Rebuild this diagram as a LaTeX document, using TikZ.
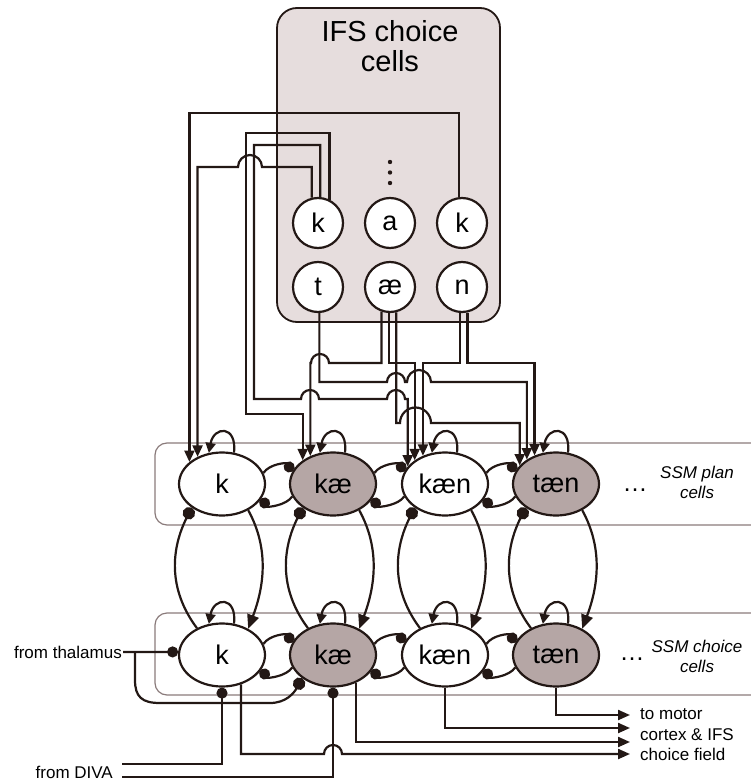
\documentclass[tikz,border=0pt]{standalone}
\usepackage{fontspec}
\setmainfont{Liberation Sans}
\usetikzlibrary{arrows.meta,shapes.geometric}
\definecolor{ink}{HTML}{231815}
\definecolor{ifsfill}{HTML}{E6DDDD}
\definecolor{shade}{HTML}{B5A6A5}
\definecolor{rowline}{HTML}{8A7B7B}
\begin{document}
\begin{tikzpicture}[x=1pt,y=-1pt,
  conn/.style={draw=ink,line width=2.2pt},
  arr/.style={conn,-{Triangle[length=11.5pt,width=10pt]}},
  bigarr/.style={conn,-{Triangle[length=14pt,width=12pt]}},
  looparr/.style={conn,-{Triangle[length=10pt,width=10pt]}},
  outarr/.style={conn,-{Triangle[length=12pt,width=10pt]}},
  dotend/.style={conn,-{Circle[length=11pt]}},
  bigdot/.style={conn,-{Circle[length=12.5pt]}},
  ifscell/.style={circle,draw=ink,line width=2.2pt,fill=white,minimum size=50pt,inner sep=0pt,font=\fontsize{27}{27}\selectfont},
  ssm/.style={ellipse,draw=ink,line width=2.2pt,minimum width=86pt,minimum height=63pt,inner sep=0pt,font=\fontsize{27}{27}\selectfont},
  ssmw/.style={ssm,fill=white},
  ssms/.style={ssm,fill=shade},
  rowbox/.style={draw=rowline,line width=1.2pt,rounded corners=12pt},
  small/.style={font=\fontsize{17}{20.5}\selectfont,inner sep=1pt},
  lbl/.style={font=\fontsize{17}{20}\selectfont\itshape,align=center,inner sep=1pt},
]
\useasboundingbox (0,0) rectangle (750,783);
% IFS box
\node[draw=ink,line width=1.8pt,fill=ifsfill,rounded corners=20pt,minimum width=223pt,minimum height=314pt,inner sep=0pt] (ifs) at (388.5,165) {};
\node[font=\fontsize{29}{29.5}\selectfont,align=center] (ifslabel) at (390,46) {IFS choice\\cells};
\node[ifscell] (ik1) at (318,223) {k};
\node[ifscell] (ia) at (390,223) {a};
\node[ifscell] (ik2) at (462,223) {k};
\node[ifscell] (it) at (318,287) {t};
\node[ifscell] (iae) at (390,287) {æ};
\node[ifscell] (in) at (462,287) {n};
\foreach \yy in {162,172.5,183} \fill[ink] (390,\yy) circle[radius=2.2pt];
% SSM row boxes
\draw[rowbox] (752,443) -- (155,443) -- (155,525) -- (752,525);
\draw[rowbox] (752,613) -- (155,613) -- (155,695) -- (752,695);
% SSM nodes
\node[ssmw] (pk) at (222,484) {k};
\node[ssms] (pkae) at (333,484) {kæ};
\node[ssmw] (pkaen) at (445,484) {kæn};
\node[ssms] (ptaen) at (556,484) {tæn};
\node[ssmw] (ck) at (222,655) {k};
\node[ssms] (ckae) at (333,655) {kæ};
\node[ssmw] (ckaen) at (445,655) {kæn};
\node[ssms] (ctaen) at (556,655) {tæn};
\node[font=\fontsize{25}{25}\selectfont] (pdots) at (635,490) {…};
\node[font=\fontsize{25}{25}\selectfont] (cdots) at (632,659) {…};
\node[lbl] (plab) at (697,482) {SSM plan\\cells};
\node[lbl] (clab) at (697,656) {SSM choice\\cells};
% IFS -> plan connections
\draw[arr] (ik2.97) |- (300,113) -| (pk.146);
\draw[arr] (ik1.104) |- (262,167) arc[start angle=0,end angle=180,radius=12pt] -| (pk.132);
\draw[arr] (ik1.85) |- (254,145) |- (301,399) arc[start angle=180,end angle=0,radius=9pt] -- (387,399) arc[start angle=180,end angle=0,radius=9pt] -| (pkaen.155);
\draw[arr] (ik1.64) |- (246,133) |- (280,414) -| (pkae.142);
\draw[arr] (it.-87) |- (387,382) arc[start angle=180,end angle=0,radius=9pt] -- (407,382) arc[start angle=180,end angle=0,radius=12pt] -| (ptaen.140);
\draw[arr] (iae.-109) |- (329,363) arc[start angle=0,end angle=180,radius=9pt] -| (pkae.129);
\draw[arr] (iae.-92) |- (400,363) -| (pkaen.142);
\draw[arr] (iae.-76) |- (400,423) arc[start angle=180,end angle=0,radius=15.5pt] -| (ptaen.153);
\draw[arr] (in.-95) |- (440,363) -| (pkaen.128);
\draw[arr] (in.-78) |- (500,363) -| (ptaen.127);
% self loops
\foreach \n in {pk,pkae,pkaen,ptaen,ck,ckae,ckaen,ctaen}
  \draw[looparr] (\n.69) .. controls +(3,-28) and +(5,-27) .. (\n.113);
% lateral inhibition
\foreach \a/\b in {pk/pkae,pkae/pkaen,pkaen/ptaen,ck/ckae,ckae/ckaen,ckaen/ctaen}{
  \draw[dotend] (\a.15) .. controls +(6,-9) and +(-6,-9) .. (\b.163);
  \draw[dotend] (\b.-163) .. controls +(-6,9) and +(6,9) .. (\a.-20);
}
% plan <-> choice
\foreach \p/\c in {pk/ck,pkae/ckae,pkaen/ckaen,ptaen/ctaen}{
  \draw[bigdot] (\c.133) .. controls +(-30,-40) and +(-20,40) .. (\p.218);
  \draw[bigarr] (\p.-45) .. controls +(22,40) and +(15,-40) .. (\c.45);
}
% thalamus
\node[small,anchor=east] (thal) at (123,652) {from thalamus};
\coordinate (tj) at (135,652);
\draw[dotend] (thal.east) -- (ck.176);
\draw[bigdot] (tj) -- (135,680) .. controls (135,697) and (142,703) .. (160,703) -- (270,703) .. controls (286,703) and (294,693) .. (ckae.217);
% DIVA
\node[small,anchor=east] (diva) at (114,772) {from DIVA};
\coordinate (dv1) at (122,764);
\coordinate (dv2) at (122,777);
\draw[dotend] (dv1) -| (ck.south);
\draw[dotend] (dv2) -| (ckae.south);
% outputs
\coordinate (o1) at (630,754);
\coordinate (o2) at (630,742);
\coordinate (o3) at (630,728);
\coordinate (o4) at (630,715);
\draw[outarr] (ck.-57) |- (324,754) arc[start angle=180,end angle=0,radius=9pt] -- (o1);
\draw[outarr] (ckae.-50) |- (o2);
\draw[outarr] (ckaen.south) |- (o3);
\draw[outarr] (ctaen.south) |- (o4);
\node[small,anchor=west,align=left] (outtxt) at (639,735) {to motor\\cortex \& IFS\\choice field};
\end{tikzpicture}
\end{document}
